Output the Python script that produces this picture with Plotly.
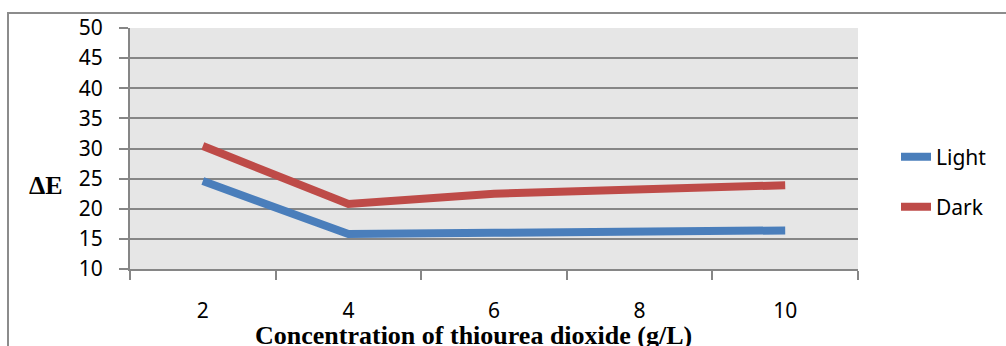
import plotly.graph_objects as go

categories = ["2", "4", "6", "8", "10"]
light = [24.6, 15.8, 16.0, 16.2, 16.4]
dark = [30.4, 20.8, 22.5, 23.2, 23.9]

W, H = 1006, 346
L, R, T, B = 130, 858, 28, 269

def px(x):
    return (x - L) / (R - L)

def py(y):
    return (B - y) / (B - T)

fig = go.Figure()
fig.add_trace(go.Scatter(x=categories, y=light, mode="lines", name="Light",
                         line=dict(color="#4a7ebb", width=8), legend="legend"))
fig.add_trace(go.Scatter(x=categories, y=dark, mode="lines", name="Dark",
                         line=dict(color="#be4b48", width=8), legend="legend2"))

tick_font = dict(family="Noto Sans, Open Sans, sans-serif", size=21, color="#000")

fig.update_layout(
    width=W, height=H,
    margin=dict(l=L, r=W - R, t=T, b=H - B),
    paper_bgcolor="white",
    plot_bgcolor="#e6e6e6",
    showlegend=True,
    legend=dict(x=px(896), y=py(157), xanchor="left", yanchor="middle",
                font=tick_font, bgcolor="rgba(0,0,0,0)"),
    legend2=dict(x=px(896), y=py(207), xanchor="left", yanchor="middle",
                 font=tick_font, bgcolor="rgba(0,0,0,0)"),
    xaxis=dict(type="category", range=[-0.5, 4.5], tickson="boundaries",
               ticks="outside", ticklen=9, tickcolor="#868686", tickwidth=2,
               showline=True, linecolor="#868686", linewidth=2,
               showgrid=False, tickfont=tick_font, ticklabelstandoff=22,
               fixedrange=True),
    yaxis=dict(range=[10, 50], dtick=5, tick0=10,
               ticks="outside", ticklen=9, tickcolor="#868686", tickwidth=2,
               showline=True, linecolor="#868686", linewidth=2,
               showgrid=True, gridcolor="#868686", gridwidth=2,
               zeroline=False, tickfont=tick_font, ticklabelstandoff=12,
               fixedrange=True),
    shapes=[dict(type="rect", xref="paper", yref="paper",
                 x0=px(8), x1=px(1040), y0=py(400), y1=py(13),
                 line=dict(color="#8c8c8c", width=2), fillcolor="rgba(0,0,0,0)",
                 layer="below")],
    annotations=[
        dict(text="<b>ΔE</b>", x=px(46), y=py(185), xref="paper", yref="paper",
             showarrow=False, xanchor="center", yanchor="middle",
             font=dict(family="Liberation Serif, serif", size=26, color="#000")),
        dict(text="<b>Concentration of thiourea dioxide (g/L)</b>", x=px(473), y=py(335),
             xref="paper", yref="paper", showarrow=False, xanchor="center",
             yanchor="middle",
             font=dict(family="Liberation Serif, serif", size=26, color="#000")),
    ],
)

fig.write_html("out.html")
